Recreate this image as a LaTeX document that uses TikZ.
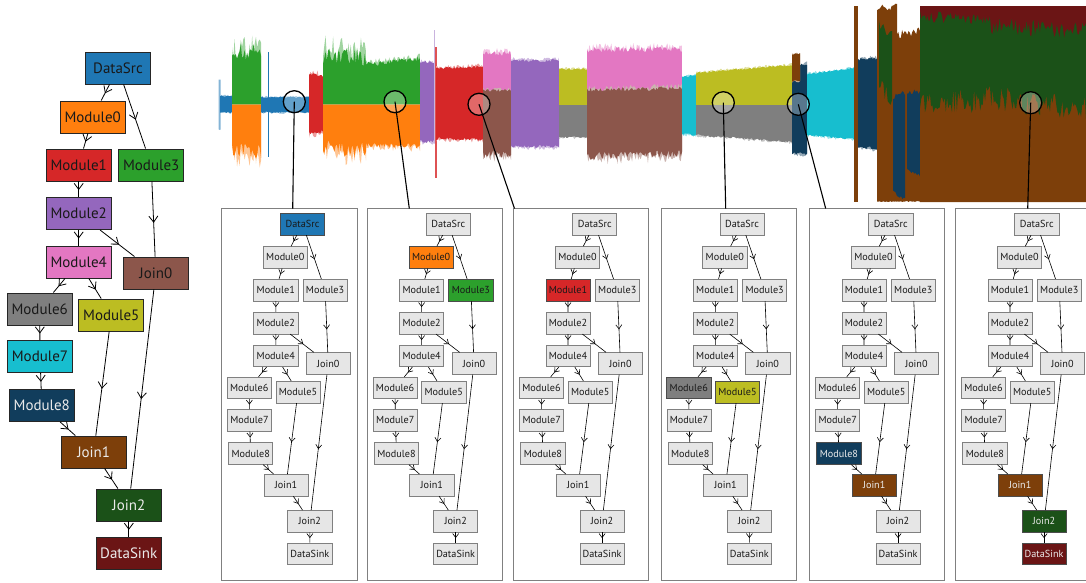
\documentclass[tikz,border=0pt]{standalone}
\usepackage{fontspec}
\setmainfont{PT Sans}
\usetikzlibrary{arrows.meta,decorations.markings}
\definecolor{cBlue}{HTML}{1F77B4}
\definecolor{cOrange}{HTML}{FF7F0E}
\definecolor{cGreen}{HTML}{2CA02C}
\definecolor{cRed}{HTML}{D62728}
\definecolor{cPurple}{HTML}{9467BD}
\definecolor{cBrown}{HTML}{8C564B}
\definecolor{cPink}{HTML}{E377C2}
\definecolor{cGray}{HTML}{7F7F7F}
\definecolor{cOlive}{HTML}{BCBD22}
\definecolor{cCyan}{HTML}{17BECF}
\definecolor{cNavy}{HTML}{113D5C}
\definecolor{cRust}{HTML}{7D3F0A}
\definecolor{cForest}{HTML}{1B5118}
\definecolor{cMaroon}{HTML}{6B1515}
\definecolor{nodegray}{HTML}{E6E6E6}

% waveform segment with pale tips: color, x1, x2, topL, topR, botL, botR, jitterTop, jitterBottom
\newcommand\wv[9]{%
  \pgfmathtruncatemacro\wvn{max(3,(#3-#2)/1.2)}%
  \fill[#1!45] plot[domain=0:1,samples=\wvn] ({#2+(#3-#2)*\x},{#4+(#5-#4)*\x-1.6*#8*rnd})
     -- plot[domain=0:1,samples=\wvn] ({#3-(#3-#2)*\x},{#7+(#6-#7)*\x+1.6*#9*rnd}) -- cycle;
  \fill[#1] plot[domain=0:1,samples=\wvn] ({#2+(#3-#2)*\x},{#4+(#5-#4)*\x-#8*rnd})
     -- plot[domain=0:1,samples=\wvn] ({#3-(#3-#2)*\x},{#7+(#6-#7)*\x+#9*rnd}) -- cycle;
}
% solid waveform segment, same arguments
\newcommand\wvs[9]{%
  \pgfmathtruncatemacro\wvn{max(3,(#3-#2)/1.2)}%
  \fill[#1] plot[domain=0:1,samples=\wvn] ({#2+(#3-#2)*\x},{#4+(#5-#4)*\x-#8*rnd})
     -- plot[domain=0:1,samples=\wvn] ({#3-(#3-#2)*\x},{#7+(#6-#7)*\x+#9*rnd}) -- cycle;
}

% the flow graph, in the coordinates of the large left copy
\newcommand\flowgraph[2]{%
  \node[gnode,n-DataSrc]  (#1DataSrc)  at (118,68)    {DataSrc};
  \node[gnode,n-Module0]  (#1Module0)  at (92.7,117)  {Module0};
  \node[gnode,n-Module1]  (#1Module1)  at (78.7,165)  {Module1};
  \node[gnode,n-Module3]  (#1Module3)  at (151.2,165) {Module3};
  \node[gnode,n-Module2]  (#1Module2)  at (78.7,213.5){Module2};
  \node[gnode,n-Module4]  (#1Module4)  at (78.7,262)  {Module4};
  \node[gnode,n-Join0]    (#1Join0)    at (155.8,273) {Join0};
  \node[gnode,n-Module6]  (#1Module6)  at (39.7,309)  {Module6};
  \node[gnode,n-Module5]  (#1Module5)  at (111.3,315) {Module5};
  \node[gnode,n-Module7]  (#1Module7)  at (40,356.5)  {Module7};
  \node[gnode,n-Module8]  (#1Module8)  at (41.8,405.5){Module8};
  \node[gnode,n-Join1]    (#1Join1)    at (93.7,452)  {Join1};
  \node[gnode,n-Join2]    (#1Join2)    at (128.8,505) {Join2};
  \node[gnode,n-DataSink] (#1DataSink) at (128.8,553) {DataSink};
  \draw[#2] (#1DataSrc) -- (#1Module0);
  \draw[#2] (#1DataSrc) -- (#1Module3);
  \draw[#2] (#1Module0) -- (#1Module1);
  \draw[#2] (#1Module1) -- (#1Module2);
  \draw[#2] (#1Module2) -- (#1Module4);
  \draw[#2] (#1Module2) -- (#1Join0);
  \draw[#2] (#1Module3) -- (#1Join0);
  \draw[#2] (#1Module4) -- (#1Module6);
  \draw[#2] (#1Module4) -- (#1Module5);
  \draw[#2] (#1Module6) -- (#1Module7);
  \draw[#2] (#1Module7) -- (#1Module8);
  \draw[#2] (#1Module8) -- (#1Join1);
  \draw[#2] (#1Module5) -- (#1Join1);
  \draw[#2] (#1Join1) -- (#1Join2);
  \draw[#2] (#1Join0) -- (#1Join2);
  \draw[#2] (#1Join2) -- (#1DataSink);
}

\tikzset{
  gnode/.style={draw=black!85, line width=0.9pt, fill=nodegray, minimum width=65pt,
    minimum height=32pt, inner sep=0pt, font=\fontsize{15}{17}\selectfont, text=black!90},
  hl/.style={fill=#1},
  hlw/.style={fill=#1, text=white!92!black},
  edge/.style={line width=0.8pt, postaction={decorate}, decoration={markings,
    mark=at position 0.55 with {\arrow{Straight Barb[length=6pt,width=9pt,line width=0.8pt]}}}},
  pedge/.style={line width=0.6pt, postaction={decorate}, decoration={markings,
    mark=at position 0.55 with {\arrow{Straight Barb[length=4pt,width=6pt,line width=0.6pt]}}}},
  n-DataSrc/.style={}, n-Module0/.style={}, n-Module1/.style={}, n-Module3/.style={},
  n-Module2/.style={}, n-Module4/.style={}, n-Join0/.style={}, n-Module6/.style={},
  n-Module5/.style={}, n-Module7/.style={}, n-Module8/.style={}, n-Join1/.style={},
  n-Join2/.style={}, n-DataSink/.style={},
  panelscope/.style={shift={(#1,177.8)}, scale=0.68, transform shape,
    gnode/.append style={draw=black!50, line width=0.7pt}},
  hp/.style={hl=#1, draw=black!70},
  hpw/.style={hlw=#1, draw=black!70},
  frame/.style={draw=black!50, line width=1pt},
  lens/.style={circle, draw=black, line width=1.3pt, minimum size=22pt, inner sep=0pt,
    fill=white, fill opacity=0.3},
  conn/.style={line width=1.1pt, draw=black},
}

\begin{document}
\begin{tikzpicture}[x=1pt,y=-1pt]
\useasboundingbox (0,0) rectangle (1086,582);
\clip (0,0) rectangle (1086,582);
\pgfmathsetseed{4711}

% ---------------- waveform ----------------
\wvs{cBlue!55}{218.5}{220.5}{80}{80}{128}{128}{2}{2}
\wv{cBlue}{220}{232}{97}{97}{111.5}{111.5}{1.5}{1.5}
\wv{cGreen}{232}{261}{60}{60}{104.5}{104.5}{16}{0}
\wv{cOrange}{232}{261}{104.5}{104.5}{143}{143}{0}{16}
\wv{cBlue}{261}{309}{98}{98}{111.5}{111.5}{1.5}{1.5}
\fill[cBlue] (267.8,52) rectangle (268.9,157);
\wv{cRed}{309}{323}{78}{78}{130}{130}{5}{5}
\wv{cGreen}{323}{366}{64}{66}{104.5}{104.5}{18}{0}
\wv{cGreen}{366}{420}{67}{61}{104.5}{104.5}{5}{0}
\wv{cOrange}{323}{366}{104.5}{104.5}{140}{142}{0}{16}
\wv{cOrange}{366}{420}{104.5}{104.5}{142}{144}{0}{5}
\wv{cPurple}{420}{435}{64}{64}{140}{140}{3}{3}
\fill[cPurple!50] (434.4,30) rectangle (435.4,143);
\fill[cRed!80] (435.4,47) rectangle (436.5,178);
\wv{cRed}{436}{483}{70}{68}{137}{138}{3}{3}
\wv{cPink}{483}{511}{56}{56}{104.5}{104.5}{5}{0}
\wv{cBrown}{483}{511}{92}{92}{150}{150}{3}{8}
\wv{cPurple}{511}{559}{62}{62}{145}{145}{3}{3}
\wv{cOlive}{559}{587}{70}{70}{105}{105}{2}{0}
\wv{cGray}{559}{587}{105}{105}{136}{136}{0}{2}
\wv{cPink}{587}{682}{53}{52}{104.5}{104.5}{6}{0}
\wv{cBrown}{587}{682}{92}{90}{152}{150}{4}{8}
\wv{cCyan}{682}{696}{78}{76}{133}{134}{2}{2}
\wv{cOlive}{696}{792}{74}{66}{105}{105}{2}{0}
\wv{cGray}{696}{792}{105}{105}{134}{141}{0}{2}
\wv{cNavy}{792}{807}{66}{66}{152}{152}{3}{3}
\wv{cRust}{792}{800}{55}{55}{80}{80}{2}{2}
\wv{cCyan}{807}{854}{75}{69}{134}{138}{2}{2}
\fill[cRust] (854,6) rectangle (857.5,202);
\wv{cNavy}{858}{877}{61}{60}{146}{147}{3}{3}
\wvs{cRust}{877}{897}{12}{10}{201}{201}{7}{1}
\wvs{cRust}{897}{920}{40}{36}{201}{201}{10}{1}
\wvs{cForest}{879}{892}{30}{40}{70}{90}{10}{20}
\wvs{cNavy}{893}{905}{100}{96}{190}{196}{6}{5}
\wvs{cNavy}{907}{920}{96}{94}{166}{172}{6}{5}
\wvs{cRust}{920}{1086}{6}{6}{202}{202}{0}{0}
\wvs{cForest}{920}{990}{6}{6}{90}{84}{0}{28}
\wvs{cForest}{990}{1040}{6}{6}{84}{92}{0}{26}
\wvs{cForest}{1040}{1086}{6}{6}{92}{96}{0}{24}
\wvs{cMaroon}{920}{990}{6}{6}{10}{14}{0}{12}
\wvs{cMaroon}{990}{1086}{6}{6}{16}{22}{0}{18}

% ---------------- lenses ----------------
\node[lens] (c1) at (294.3,101.7) {};
\node[lens] (c2) at (395,101.7) {};
\node[lens] (c3) at (479,104.3) {};
\node[lens] (c4) at (723.3,102.7) {};
\node[lens] (c5) at (798.3,104.3) {};
\node[lens] (c6) at (1030.7,102.7) {};

% ---------------- panel frames ----------------
\draw[frame] (221.7,208.5) rectangle (357.5,580.5);
\draw[frame] (367.3,208.5) rectangle (502.7,580.5);
\draw[frame] (513.3,208.5) rectangle (648.3,580.5);
\draw[frame] (661,208.5) rectangle (796.7,580.5);
\draw[frame] (809.3,208.5) rectangle (944.5,580.5);
\draw[frame] (955,208.5) rectangle (1100,580.5);

\coordinate (a1) at (292.7,208.5);
\coordinate (a2) at (409.3,208.5);
\coordinate (a3) at (514.5,208.5);
\coordinate (a4) at (725.7,208.5);
\coordinate (a5) at (825.7,208.5);
\coordinate (a6) at (1027.7,208.5);
\draw[conn] (c1.center) -- (a1);
\draw[conn] (c2.center) -- (a2);
\draw[conn] (c3.center) -- (a3);
\draw[conn] (c4.center) -- (a4);
\draw[conn] (c5.center) -- (a5);
\draw[conn] (c6.center) -- (a6);

% ---------------- large graph ----------------
\begin{scope}[n-DataSrc/.style={hl=cBlue}, n-Module0/.style={hl=cOrange},
  n-Module1/.style={hl=cRed}, n-Module3/.style={hl=cGreen}, n-Module2/.style={hl=cPurple},
  n-Module4/.style={hl=cPink}, n-Join0/.style={hl=cBrown}, n-Module6/.style={hl=cGray},
  n-Module5/.style={hl=cOlive}, n-Module7/.style={hl=cCyan}, n-Module8/.style={hlw=cNavy},
  n-Join1/.style={hlw=cRust}, n-Join2/.style={hlw=cForest}, n-DataSink/.style={hlw=cMaroon}]
  \flowgraph{L}{edge}
\end{scope}

% ---------------- panels ----------------
\begin{scope}[panelscope=222.3, n-DataSrc/.style={hp=cBlue}]
  \flowgraph{P1}{pedge}
\end{scope}
\begin{scope}[panelscope=368.1, n-Module0/.style={hp=cOrange}, n-Module3/.style={hp=cGreen}]
  \flowgraph{P2}{pedge}
\end{scope}
\begin{scope}[panelscope=514.5, n-Module1/.style={hp=cRed}]
  \flowgraph{P3}{pedge}
\end{scope}
\begin{scope}[panelscope=661.8, n-Module6/.style={hp=cGray}, n-Module5/.style={hp=cOlive}]
  \flowgraph{P4}{pedge}
\end{scope}
\begin{scope}[panelscope=810.5, n-Module8/.style={hpw=cNavy}, n-Join1/.style={hpw=cRust}]
  \flowgraph{P5}{pedge}
\end{scope}
\begin{scope}[panelscope=956.5, n-Join1/.style={hpw=cRust}, n-Join2/.style={hpw=cForest},
  n-DataSink/.style={hpw=cMaroon}]
  \flowgraph{P6}{pedge}
\end{scope}
\end{tikzpicture}
\end{document}
